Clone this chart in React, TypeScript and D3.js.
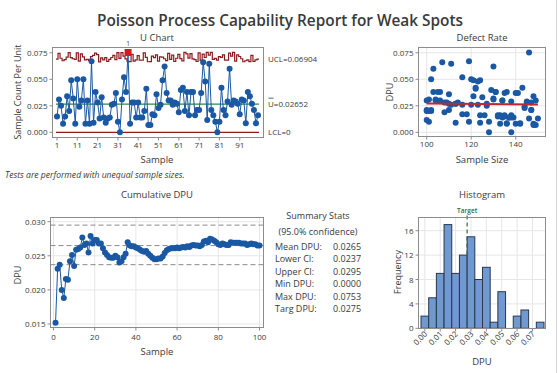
import React from 'react';
import * as d3 from 'd3';

// ---------- data ----------
const sampleIds = [
  1, 2, 3, 4, 5, 6, 7, 8, 9, 10, 11, 12, 13, 14, 15, 16, 17, 18, 19, 20,
  21, 22, 23, 24, 25, 26, 27, 28, 29, 30, 31, 32, 33, 34, 35, 36, 37, 38, 39, 40,
  41, 42, 43, 44, 45, 46, 47, 48, 49, 50, 51, 52, 53, 54, 55, 56, 57, 58, 59, 60,
  61, 62, 63, 64, 65, 66, 67, 68, 69, 70, 71, 72, 73, 74, 75, 76, 77, 78, 79, 80,
  81, 82, 83, 84, 85, 86, 87, 88, 89, 90, 91, 92, 93, 94, 95, 96, 97, 98, 99, 100,
];

const dpu = [
  0.015, 0.031, 0.025, 0.008, 0.015, 0.034, 0.020, 0.049, 0.032, 0.008,
  0.050, 0.024, 0.030, 0.050, 0.008, 0.030, 0.008, 0.067, 0.009, 0.038,
  0.028, 0.013, 0.033, 0.014, 0.009, 0.013, 0.014, 0.026, 0.027, 0.037,
  0.010, 0.000, 0.031, 0.052, 0.038, 0.0753, 0.008, 0.028, 0.028, 0.014,
  0.028, 0.014, 0.014, 0.020, 0.041, 0.007, 0.007, 0.017, 0.016, 0.036,
  0.023, 0.026, 0.049, 0.062, 0.037, 0.030, 0.030, 0.026, 0.028, 0.027,
  0.019, 0.040, 0.042, 0.020, 0.038, 0.016, 0.038, 0.038, 0.016, 0.021,
  0.021, 0.037, 0.066, 0.048, 0.0115, 0.0646, 0.021, 0.016, 0.010, 0.000,
  0.010, 0.042, 0.021, 0.016, 0.029, 0.060, 0.026, 0.030, 0.029, 0.027,
  0.017, 0.031, 0.030, 0.0085, 0.038, 0.034, 0.027, 0.021, 0.0085, 0.016,
];

const sampleSizes = [
  132, 104, 127, 142, 135, 121, 101, 124, 130, 133,
  102, 144, 106, 120, 136, 134, 140, 119, 113, 103,
  109, 150, 125, 137, 124, 146, 134, 123, 113, 135,
  101, 128, 101, 116, 131, 146, 148, 108, 145, 137,
  114, 138, 139, 102, 122, 149, 148, 116, 124, 110,
  144, 120, 121, 130, 141, 104, 134, 111, 147, 127,
  108, 129, 143, 100, 106, 126, 105, 131, 135, 147,
  102, 140, 107, 123, 100, 111, 100, 133, 128, 138,
  119, 122, 110, 138, 138, 103, 116, 100, 145, 110,
  118, 130, 149, 142, 136, 148, 113, 147, 136, 132,
];

const cumulativeDpu = [
  0.0152, 0.0231, 0.0237, 0.0200, 0.0188, 0.0216, 0.0215, 0.0242, 0.0251, 0.0235,
  0.0259, 0.0260, 0.0262, 0.0277, 0.0266, 0.0268, 0.0255, 0.0279, 0.0268, 0.0273,
  0.0273, 0.0268, 0.0268, 0.0261, 0.0255, 0.0251, 0.0248, 0.0247, 0.0247, 0.0250,
  0.0248, 0.0240, 0.0242, 0.0248, 0.0253, 0.0270, 0.0265, 0.0264, 0.0264, 0.0262,
  0.0261, 0.0259, 0.0257, 0.0256, 0.0257, 0.0253, 0.0250, 0.0247, 0.0245, 0.0245,
  0.0246, 0.0246, 0.0249, 0.0254, 0.0258, 0.0260, 0.0261, 0.0261, 0.0261, 0.0262,
  0.0261, 0.0262, 0.0263, 0.0262, 0.0264, 0.0263, 0.0265, 0.0266, 0.0265, 0.0265,
  0.0264, 0.0266, 0.0271, 0.0272, 0.0270, 0.0275, 0.0274, 0.0272, 0.0270, 0.0267,
  0.0266, 0.0268, 0.0267, 0.0266, 0.0266, 0.0270, 0.0269, 0.0269, 0.0269, 0.0269,
  0.0268, 0.0268, 0.0268, 0.0266, 0.0267, 0.0268, 0.0267, 0.0267, 0.0265, 0.0265,
];

const histBinMids = [0, 0.005, 0.01, 0.015, 0.02, 0.025, 0.03, 0.035, 0.04, 0.045, 0.05, 0.055, 0.06, 0.065, 0.07, 0.075];
const histCounts = [2, 5, 9, 17, 9, 12, 15, 8, 10, 1, 6, 0, 2, 3, 0, 1];
const histBinWidth = 0.005;

const uBar = 0.02652;
const meanDpu = 0.0265;
const lowerCI = 0.0237;
const upperCI = 0.0295;
const targetDpu = 0.0275;
const fitLineSizes = [100, 150];
const fitLineDpu = [0.0272, 0.0263];

const uXTicks = [1, 11, 21, 31, 41, 51, 61, 71, 81, 91];
const dpuTicks = [0, 0.025, 0.05, 0.075];
const sizeTicks = [100, 120, 140];
const cumXTicks = [0, 20, 40, 60, 80, 100];
const cumYTicks = [0.015, 0.02, 0.025, 0.03];
const histYTicks = [0, 4, 8, 12, 16];
const histXTicks = [0, 0.01, 0.02, 0.03, 0.04, 0.05, 0.06, 0.07];

const summaryLabels = ['Mean DPU:', 'Lower CI:', 'Upper CI:', 'Min DPU:', 'Max DPU:', 'Targ DPU:'];
const summaryValues = ['0.0265', '0.0237', '0.0295', '0.0000', '0.0753', '0.0275'];

// ---------- style ----------
const FONT = "'Open Sans', 'Noto Sans', sans-serif";
const TXT = '#3a3a3a';
const FRAME = '#8c8c8c';
const GRID = '#e6e6e6';
const BLUE = '#1a58a4';
const RED = '#8c1c1c';
const GREEN = '#2c8a40';

type Box = { x0: number; x1: number; y0: number; y1: number };

function Frame({ b }: { b: Box }) {
  return <rect x={b.x0} y={b.y0} width={b.x1 - b.x0} height={b.y1 - b.y0} fill="none" stroke={FRAME} strokeWidth={1} />;
}

export default function App() {
  // ---------- U chart ----------
  const uB: Box = { x0: 52.5, x1: 263.5, y0: 47.5, y1: 137.5 };
  const uX = d3.scaleLinear().domain([1, 100]).range([57, 258]);
  const uY = d3.scaleLinear().domain([0, 0.075]).range([132.3, 52.8]);
  const ucl = sampleSizes.map((n) => uBar + 3 * Math.sqrt(uBar / n));
  const uclPts: [number, number][] = [];
  sampleIds.forEach((s, i) => {
    uclPts.push([uX(s - 0.5), uY(ucl[i])]);
    uclPts.push([uX(s + 0.5), uY(ucl[i])]);
  });
  const lineGen = d3.line<[number, number]>();
  const uPath = d3.line<number>().x((_, i) => uX(sampleIds[i])).y((d) => uY(d))(dpu) || '';
  const xs0 = uX(sampleIds[0] - 0.5);
  const xs1 = uX(sampleIds[sampleIds.length - 1] + 0.5);

  // ---------- Defect rate ----------
  const dB: Box = { x0: 418.5, x1: 545.5, y0: 47.5, y1: 136.5 };
  const dX = d3.scaleLinear().domain([100, 140]).range([426.7, 515.7]);
  const dY = uY;

  // ---------- Cumulative ----------
  const cB: Box = { x0: 50.5, x1: 263.5, y0: 217.5, y1: 327.5 };
  const cX = d3.scaleLinear().domain([0, 100]).range([53.5, 259.5]);
  const cY = d3.scaleLinear().domain([0.015, 0.03]).range([324, 221.7]);
  const cPath = d3.line<number>().x((_, i) => cX(sampleIds[i])).y((d) => cY(d))(cumulativeDpu) || '';

  // ---------- Histogram ----------
  const hB: Box = { x0: 418.5, x1: 545.5, y0: 217.5, y1: 328.5 };
  const hX = d3.scaleLinear().domain([-0.0025, 0.0775]).range([421, 544]);
  const hY = d3.scaleLinear().domain([0, 16]).range([328.3, 230.7]);

  const tick = 8;
  const panelTitle = 9.5;
  const axisTitle = 9.5;

  return (
    <svg width={559} height={373} style={{ position: 'absolute', left: 0, top: 0, background: '#fff' }} fontFamily={FONT}>
      <rect x={0} y={0} width={559} height={373} fill="#fff" />
      <line x1={556.5} x2={556.5} y1={0} y2={373} stroke="#d6d6d6" />
      <text x={97} y={26} fontSize={16.5} fontWeight={600} fill={TXT} textLength={366} lengthAdjust="spacingAndGlyphs">
        Poisson Process Capability Report for Weak Spots
      </text>

      {/* ===== U chart ===== */}
      <text x={157} y={41} textAnchor="middle" fontSize={panelTitle} fill={TXT}>U Chart</text>
      <Frame b={uB} />
      {uXTicks.map((t) => (
        <g key={'ux' + t}>
          <line x1={uX(t)} x2={uX(t)} y1={uB.y1} y2={uB.y1 + 3} stroke={FRAME} />
          <text x={uX(t)} y={148} textAnchor="middle" fontSize={tick} fill={TXT}>{t}</text>
        </g>
      ))}
      {dpuTicks.map((t) => (
        <g key={'uy' + t}>
          <line x1={uB.x0 - 3} x2={uB.x0} y1={uY(t)} y2={uY(t)} stroke={FRAME} />
          <text x={uB.x0 - 5} y={uY(t) + 3} textAnchor="end" fontSize={tick} fill={TXT}>{d3.format('.3f')(t)}</text>
        </g>
      ))}
      <text x={157} y={163} textAnchor="middle" fontSize={axisTitle} fill={TXT}>Sample</text>
      <text transform={`translate(21,92) rotate(-90)`} textAnchor="middle" fontSize={9} fill={TXT}>Sample Count Per Unit</text>
      <path d={lineGen(uclPts) || ''} fill="none" stroke={RED} strokeWidth={1.2} />
      <line x1={xs0} x2={xs1} y1={uY(0)} y2={uY(0)} stroke={RED} strokeWidth={1.2} />
      <line x1={xs0} x2={xs1} y1={uY(uBar)} y2={uY(uBar)} stroke={GREEN} strokeWidth={1.2} />
      <path d={uPath} fill="none" stroke={BLUE} strokeWidth={1} />
      {dpu.map((d, i) =>
        d > ucl[i] ? (
          <g key={'up' + i}>
            <rect x={uX(sampleIds[i]) - 3.5} y={uY(d) - 3.5} width={7} height={7} fill="#d01c1c" />
            <text x={uX(sampleIds[i])} y={uY(d) - 6} textAnchor="middle" fontSize={6.5} fill={TXT}>1</text>
          </g>
        ) : (
          <circle key={'up' + i} cx={uX(sampleIds[i])} cy={uY(d)} r={3} fill={BLUE} />
        )
      )}
      <text x={268} y={uY(ucl[ucl.length - 1]) + 3} fontSize={8} fill={TXT}>UCL=0.06904</text>
      <text x={268} y={uY(uBar) + 3} fontSize={8} fill={TXT}>U=0.02652</text>
      <line x1={268.5} x2={273.5} y1={uY(uBar) - 6} y2={uY(uBar) - 6} stroke={TXT} strokeWidth={0.8} />
      <text x={268} y={uY(0) + 3} fontSize={8} fill={TXT}>LCL=0</text>
      <text x={5} y={178} fontSize={8.6} fontStyle="italic" fill={TXT}>Tests are performed with unequal sample sizes.</text>

      {/* ===== Defect rate ===== */}
      <text x={482} y={41} textAnchor="middle" fontSize={panelTitle} fill={TXT}>Defect Rate</text>
      {sizeTicks.map((t) => (
        <line key={'dgx' + t} x1={dX(t)} x2={dX(t)} y1={dB.y0} y2={dB.y1} stroke={GRID} />
      ))}
      {dpuTicks.map((t) => (
        <line key={'dgy' + t} x1={dB.x0} x2={dB.x1} y1={dY(t)} y2={dY(t)} stroke={GRID} />
      ))}
      <Frame b={dB} />
      {sizeTicks.map((t) => (
        <g key={'dx' + t}>
          <line x1={dX(t)} x2={dX(t)} y1={dB.y1} y2={dB.y1 + 3} stroke={FRAME} />
          <text x={dX(t)} y={147} textAnchor="middle" fontSize={tick} fill={TXT}>{t}</text>
        </g>
      ))}
      {dpuTicks.map((t) => (
        <g key={'dy' + t}>
          <line x1={dB.x0 - 3} x2={dB.x0} y1={dY(t)} y2={dY(t)} stroke={FRAME} />
          <text x={dB.x0 - 5} y={dY(t) + 3} textAnchor="end" fontSize={tick} fill={TXT}>{d3.format('.3f')(t)}</text>
        </g>
      ))}
      <text x={482} y={163} textAnchor="middle" fontSize={axisTitle} fill={TXT}>Sample Size</text>
      <text transform={`translate(393,92) rotate(-90)`} textAnchor="middle" fontSize={9} fill={TXT}>DPU</text>
      {dpu.map((d, i) => (
        <circle key={'dp' + i} cx={dX(sampleSizes[i])} cy={dY(d)} r={3} fill={BLUE} />
      ))}
      <line x1={dX(fitLineSizes[0])} x2={dX(fitLineSizes[1])} y1={dY(fitLineDpu[0])} y2={dY(fitLineDpu[1])} stroke="#c0282d" strokeWidth={2} />

      {/* ===== Cumulative DPU ===== */}
      <text x={157} y={198} textAnchor="middle" fontSize={panelTitle} fill={TXT}>Cumulative DPU</text>
      {cumXTicks.map((t) => (
        <line key={'cgx' + t} x1={cX(t)} x2={cX(t)} y1={cB.y0} y2={cB.y1} stroke={GRID} />
      ))}
      {cumYTicks.map((t) => (
        <line key={'cgy' + t} x1={cB.x0} x2={cB.x1} y1={cY(t)} y2={cY(t)} stroke={GRID} />
      ))}
      {[upperCI, meanDpu, lowerCI].map((v) => (
        <line key={'cl' + v} x1={cB.x0} x2={cB.x1} y1={cY(v)} y2={cY(v)} stroke="#8a8a8a" strokeDasharray="5,3" strokeWidth={1} />
      ))}
      <Frame b={cB} />
      {cumXTicks.map((t) => (
        <g key={'cx' + t}>
          <line x1={cX(t)} x2={cX(t)} y1={cB.y1} y2={cB.y1 + 3} stroke={FRAME} />
          <text x={cX(t)} y={340} textAnchor="middle" fontSize={tick} fill={TXT}>{t}</text>
        </g>
      ))}
      {cumYTicks.map((t) => (
        <g key={'cy' + t}>
          <line x1={cB.x0 - 3} x2={cB.x0} y1={cY(t)} y2={cY(t)} stroke={FRAME} />
          <text x={cB.x0 - 5} y={cY(t) + 3} textAnchor="end" fontSize={tick} fill={TXT}>{d3.format('.3f')(t)}</text>
        </g>
      ))}
      <text x={157} y={355} textAnchor="middle" fontSize={axisTitle} fill={TXT}>Sample</text>
      <text transform={`translate(21,275) rotate(-90)`} textAnchor="middle" fontSize={9} fill={TXT}>DPU</text>
      <path d={cPath} fill="none" stroke={BLUE} strokeWidth={1} />
      {cumulativeDpu.map((d, i) => (
        <circle key={'cp' + i} cx={cX(sampleIds[i])} cy={cY(d)} r={3} fill={BLUE} />
      ))}

      {/* ===== Summary stats ===== */}
      <text x={318} y={219} textAnchor="middle" fontSize={9} fill={TXT}>Summary Stats</text>
      <text x={318} y={235} textAnchor="middle" fontSize={9} fill={TXT}>(95.0% confidence)</text>
      {summaryLabels.map((l, i) => (
        <g key={'s' + i}>
          <text x={275} y={250 + i * 12.4} fontSize={9} fill={TXT}>{l}</text>
          <text x={333} y={250 + i * 12.4} fontSize={9} fill={TXT}>{summaryValues[i]}</text>
        </g>
      ))}

      {/* ===== Histogram ===== */}
      <text x={482} y={198} textAnchor="middle" fontSize={panelTitle} fill={TXT}>Histogram</text>
      {histXTicks.map((t) => (
        <line key={'hgx' + t} x1={hX(t)} x2={hX(t)} y1={hB.y0} y2={hB.y1} stroke={GRID} />
      ))}
      {histYTicks.map((t) => (
        <line key={'hgy' + t} x1={hB.x0} x2={hB.x1} y1={hY(t)} y2={hY(t)} stroke={GRID} />
      ))}
      <line x1={hX(targetDpu)} x2={hX(targetDpu)} y1={hB.y0 - 2} y2={hB.y1} stroke="#2f6b3a" strokeDasharray="4,3" strokeWidth={1.2} />
      {histCounts.map((c, i) =>
        c > 0 ? (
          <rect key={'hb' + i} x={hX(histBinMids[i] - histBinWidth / 2)} y={hY(c)} width={hX(histBinMids[i] + histBinWidth / 2) - hX(histBinMids[i] - histBinWidth / 2)} height={hY(0) - hY(c)} fill="#7199d1" stroke="#27384d" strokeWidth={1} />
        ) : null
      )}
      <Frame b={hB} />
      <text x={hX(targetDpu)} y={213} textAnchor="middle" fontSize={6.5} fontWeight={600} fill="#2f6b3a">Target</text>
      {histXTicks.map((t) => (
        <g key={'hx' + t}>
          <line x1={hX(t)} x2={hX(t)} y1={hB.y1} y2={hB.y1 + 3} stroke={FRAME} />
          <text transform={`translate(${hX(t) + 3},${hB.y1 + 6}) rotate(-45)`} textAnchor="end" fontSize={tick} fill={TXT}>{d3.format('.2f')(t)}</text>
        </g>
      ))}
      {histYTicks.map((t) => (
        <g key={'hy' + t}>
          <line x1={hB.x0 - 3} x2={hB.x0} y1={hY(t)} y2={hY(t)} stroke={FRAME} />
          <text x={hB.x0 - 5} y={hY(t) + 3} textAnchor="end" fontSize={tick} fill={TXT}>{t}</text>
        </g>
      ))}
      <text x={482} y={365} textAnchor="middle" fontSize={axisTitle} fill={TXT}>DPU</text>
      <text transform={`translate(401,272) rotate(-90)`} textAnchor="middle" fontSize={9} fill={TXT}>Frequency</text>
    </svg>
  );
}
